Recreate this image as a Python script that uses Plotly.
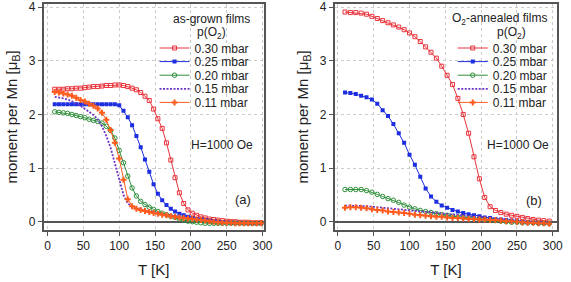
import plotly.graph_objects as go

# ---------------- data ----------------
T_a = [10, 16, 22, 28, 34, 40, 46, 52, 58, 64, 70, 76, 82, 88, 94, 100, 106, 112, 118, 124,
       130, 136, 142, 148, 154, 160, 166, 172, 178, 184, 190, 196, 202, 208, 214, 220, 226, 232, 238, 244,
       250, 256, 262, 268, 274, 280, 286, 292, 298]

a_030 = [2.47, 2.47, 2.47, 2.48, 2.48, 2.49, 2.49, 2.50, 2.51, 2.52,
         2.52, 2.53, 2.54, 2.54, 2.55, 2.55, 2.54, 2.52, 2.49, 2.46,
         2.41, 2.34, 2.26, 2.10, 1.92, 1.74, 1.47, 1.15, 0.82, 0.54,
         0.34, 0.22, 0.16, 0.12, 0.09, 0.07, 0.05, 0.04, 0.03, 0.02,
         0.01, 0.00, 0.00, -0.01, -0.01, -0.01, -0.02, -0.02, -0.02]
a_025 = [2.19, 2.19, 2.19, 2.19, 2.19, 2.19, 2.19, 2.19, 2.19, 2.19,
         2.19, 2.19, 2.19, 2.19, 2.19, 2.17, 2.07, 1.95, 1.80, 1.60,
         1.39, 1.16, 0.93, 0.70, 0.52, 0.40, 0.31, 0.24, 0.19, 0.15,
         0.12, 0.09, 0.07, 0.05, 0.04, 0.03, 0.02, 0.01, 0.00, -0.01,
         -0.01, -0.02, -0.02, -0.02, -0.03, -0.03, -0.03, -0.03, -0.03]
a_020 = [2.05, 2.04, 2.03, 2.02, 2.00, 1.98, 1.96, 1.94, 1.91, 1.89,
         1.87, 1.84, 1.78, 1.70, 1.56, 1.33, 1.10, 0.85, 0.63, 0.48,
         0.38, 0.32, 0.27, 0.23, 0.19, 0.16, 0.13, 0.10, 0.08, 0.05,
         0.03, 0.01, 0.00, -0.01, -0.02, -0.03, -0.03, -0.03, -0.03, -0.03,
         -0.03, -0.03, -0.03, -0.03, -0.03, -0.03, -0.03, -0.03, -0.03]
a_015 = [2.33, 2.32, 2.30, 2.28, 2.25, 2.21, 2.16, 2.11, 2.05, 1.99,
         1.91, 1.78, 1.60, 1.38, 1.10, 0.78, 0.50, 0.34, 0.28, 0.25,
         0.23, 0.21, 0.19, 0.17, 0.16, 0.14, 0.13, 0.11, 0.10, 0.09,
         0.08, 0.06, 0.05, 0.04, 0.03, 0.02, 0.01, 0.00, -0.01, -0.01,
         -0.02, -0.02, -0.02, -0.02, -0.03, -0.03, -0.03, -0.03, -0.03]
a_011 = [2.42, 2.41, 2.39, 2.37, 2.35, 2.31, 2.27, 2.24, 2.20, 2.16,
         2.11, 2.03, 1.90, 1.71, 1.47, 1.18, 0.78, 0.42, 0.29, 0.24,
         0.22, 0.20, 0.18, 0.16, 0.15, 0.13, 0.12, 0.10, 0.09, 0.08,
         0.07, 0.06, 0.05, 0.04, 0.03, 0.02, 0.01, 0.00, -0.01, -0.02,
         -0.02, -0.02, -0.03, -0.03, -0.03, -0.03, -0.03, -0.03, -0.03]

T_b = [10, 17.5, 25, 32.5, 40, 47.5, 55, 62.5, 70, 77.5, 85, 92.5, 100, 107.5, 115, 122.5, 130,
       137.5, 145, 152.5, 160, 167.5, 175, 182.5, 190, 197.5, 205, 212.5, 220, 227.5, 235, 242.5,
       250, 257.5, 265, 272.5, 280, 287.5, 295]

b_030 = [3.91, 3.90, 3.90, 3.89, 3.87, 3.83, 3.79, 3.75, 3.71, 3.67,
         3.63, 3.58, 3.52, 3.45, 3.36, 3.26, 3.16, 3.05, 2.90, 2.73,
         2.56, 2.30, 2.00, 1.65, 1.21, 0.80, 0.45, 0.28, 0.21, 0.17,
         0.14, 0.12, 0.10, 0.08, 0.06, 0.04, 0.03, 0.02, 0.01]
b_025 = [2.41, 2.40, 2.38, 2.35, 2.32, 2.28, 2.20, 2.08, 1.97, 1.82,
         1.65, 1.47, 1.25, 1.06, 0.84, 0.62, 0.47, 0.37, 0.30, 0.26,
         0.22, 0.19, 0.16, 0.14, 0.12, 0.10, 0.08, 0.07, 0.05, 0.04,
         0.03, 0.02, 0.01, 0.00, -0.01, -0.02, -0.02, -0.03, -0.03]
b_020 = [0.60, 0.60, 0.60, 0.60, 0.58, 0.55, 0.51, 0.47, 0.43, 0.40,
         0.36, 0.31, 0.27, 0.24, 0.21, 0.19, 0.17, 0.15, 0.13, 0.12,
         0.10, 0.09, 0.08, 0.07, 0.06, 0.05, 0.04, 0.03, 0.02, 0.01,
         0.00, -0.01, -0.01, -0.02, -0.02, -0.02, -0.03, -0.03, -0.03]
b_015 = [0.30, 0.30, 0.30, 0.30, 0.29, 0.28, 0.27, 0.26, 0.25, 0.24,
         0.23, 0.22, 0.21, 0.20, 0.19, 0.18, 0.17, 0.16, 0.15, 0.14,
         0.13, 0.12, 0.11, 0.10, 0.09, 0.08, 0.07, 0.06, 0.05, 0.04,
         0.03, 0.02, 0.01, 0.01, 0.00, -0.01, -0.01, -0.02, -0.02]
b_011 = [0.26, 0.27, 0.27, 0.26, 0.25, 0.23, 0.22, 0.21, 0.19, 0.18,
         0.17, 0.16, 0.15, 0.13, 0.12, 0.11, 0.10, 0.09, 0.09, 0.08,
         0.07, 0.07, 0.06, 0.05, 0.05, 0.04, 0.04, 0.03, 0.03, 0.02,
         0.01, 0.01, 0.00, -0.01, -0.02, -0.02, -0.03, -0.03, -0.04]

labels = ["0.30 mbar", "0.25 mbar", "0.20 mbar", "0.15 mbar", "0.11 mbar"]
x_ticks = [0, 50, 100, 150, 200, 250, 300]
y_ticks = [0, 1, 2, 3, 4]

# ---------------- styles ----------------
RED, BLUE, GREEN, PURPLE, ORANGE = "#e8333b", "#1c2ee0", "#2f8f3a", "#6b33c4", "#ff5b1c"
styles = [
    dict(mode="lines+markers", line=dict(color=RED, width=1),
         marker=dict(symbol="square-open", size=4, color=RED, line=dict(width=1, color=RED))),
    dict(mode="lines+markers", line=dict(color=BLUE, width=1),
         marker=dict(symbol="square", size=4, color=BLUE)),
    dict(mode="lines+markers", line=dict(color=GREEN, width=1),
         marker=dict(symbol="circle-open", size=4.5, color=GREEN, line=dict(width=1, color=GREEN))),
    dict(mode="lines", line=dict(color=PURPLE, width=1.8, dash="2px,1.5px")),
    dict(mode="lines+markers", line=dict(color=ORANGE, width=1),
         marker=dict(symbol="cross", size=5, color=ORANGE)),
]

W, H = 571, 282
ML, MR, MT, MB = 0, 0, 4, 52
PH = H - MT - MB


def px_x(p):
    return p / W


def px_y(p):
    return (H - MB - p) / PH


FONT = "Liberation Sans, Arial, sans-serif"
fig = go.Figure()

legend_rows = [48, 61.6, 75.2, 88.8, 102.4]
legend_layout = {}
legend_common = dict(font=dict(size=12, color="#222", family=FONT), bgcolor="rgba(0,0,0,0)",
                     itemwidth=30, xanchor="left", yanchor="middle")

for panel, (T, series, x_leg) in enumerate([(T_a, [a_030, a_025, a_020, a_015, a_011], 157),
                                            (T_b, [b_030, b_025, b_020, b_015, b_011], 460)]):
    for i, (ys, lab, st) in enumerate(zip(series, labels, styles)):
        k = panel * 5 + i + 1
        lname = "legend" if k == 1 else f"legend{k}"
        fig.add_trace(go.Scatter(x=T, y=ys, name=lab,
                                 xaxis="x" if panel == 0 else "x2",
                                 yaxis="y" if panel == 0 else "y2",
                                 legend=lname, **st))
        legend_layout[lname] = dict(x=px_x(x_leg), y=px_y(legend_rows[i]), **legend_common)

FRAME = "#555555"
common_x = dict(tickvals=x_ticks, showline=True, mirror=True, linecolor=FRAME, linewidth=1.5,
                ticks="outside", ticklen=4, tickcolor=FRAME, showgrid=True, gridcolor="#cccccc",
                griddash="dot", gridwidth=1, zeroline=False, tickfont=dict(size=12, color="#222"),
                title=dict(text="T [K]", font=dict(size=15, color="#222"), standoff=12))
common_y = dict(tickvals=y_ticks, range=[-0.155, 4.06], showline=True, mirror=True, linecolor=FRAME,
                linewidth=1.5, ticks="outside", ticklen=4, tickcolor=FRAME, showgrid=True,
                gridcolor="#cccccc", griddash="dot", gridwidth=1, zeroline=True, zerolinecolor=FRAME,
                zerolinewidth=1.5, tickfont=dict(size=12, color="#222"),
                title=dict(text="moment per Mn [μ<sub>B</sub>]", font=dict(size=15, color="#222"), standoff=8))

fig.update_layout(
    width=W, height=H,
    margin=dict(l=ML, r=MR, t=MT, b=MB),
    paper_bgcolor="white", plot_bgcolor="white",
    font=dict(family=FONT, color="#222"),
    xaxis=dict(domain=[44.3 / W, 268 / W], range=[-5.5, 301.8], anchor="y", **common_x),
    yaxis=dict(domain=[0, 1], anchor="x", **common_y),
    xaxis2=dict(domain=[340 / W, 566 / W], range=[-4.5, 306], anchor="y2", **common_x),
    yaxis2=dict(domain=[0, 1], anchor="x2", **common_y),
    showlegend=True,
    **legend_layout,
)

ann = [
    ("as-grown films", 215, 19, 12),
    ("p(O<sub>2</sub>)", 215, 33, 12),
    ("O<sub>2</sub>-annealed films", 508, 19, 12),
    ("p(O<sub>2</sub>)", 520, 33, 12),
    ("H=1000 Oe", 226, 145, 12),
    ("H=1000 Oe", 526, 145, 12),
    ("(a)", 247, 199, 13),
    ("(b)", 543, 200, 13),
]
for txt, x, y, s in ann:
    fig.add_annotation(text=txt, x=px_x(x), y=px_y(y), xref="paper", yref="paper",
                       xanchor="center", yanchor="middle", showarrow=False,
                       font=dict(size=s, color="#222", family=FONT))

fig.write_html("out.html")
